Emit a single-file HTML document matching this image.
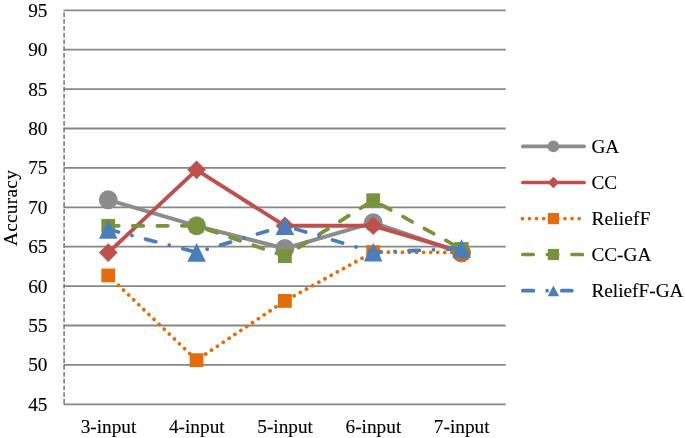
<!DOCTYPE html>
<html lang="en"><head><meta charset="utf-8"><title>Accuracy chart</title>
<style>html,body{margin:0;padding:0;background:#fff}svg{display:block}text{font-family:"Liberation Serif","Times New Roman",serif;font-size:19.3px;fill:#000;stroke:#000;stroke-width:0.12px}</style></head><body>
<svg width="685" height="438" viewBox="0 0 685 438">
<rect width="685" height="438" fill="#fff"/>
<g stroke="#868686" stroke-width="1.8" fill="none">
<line x1="63.5" y1="10.30" x2="505.7" y2="10.30"/>
<line x1="63.5" y1="49.70" x2="505.7" y2="49.70"/>
<line x1="63.5" y1="89.10" x2="505.7" y2="89.10"/>
<line x1="63.5" y1="128.50" x2="505.7" y2="128.50"/>
<line x1="63.5" y1="167.90" x2="505.7" y2="167.90"/>
<line x1="63.5" y1="207.30" x2="505.7" y2="207.30"/>
<line x1="63.5" y1="246.70" x2="505.7" y2="246.70"/>
<line x1="63.5" y1="286.10" x2="505.7" y2="286.10"/>
<line x1="63.5" y1="325.50" x2="505.7" y2="325.50"/>
<line x1="63.5" y1="364.90" x2="505.7" y2="364.90"/>
<line x1="63.5" y1="404.30" x2="505.7" y2="404.30"/>
</g>
<line x1="64.1" y1="10.3" x2="64.1" y2="404.3" stroke="#757575" stroke-width="1.5" stroke-dasharray="4.75 2.034" stroke-dashoffset="4.75"/>
<g text-anchor="end">
<text x="47.5" y="16.8">95</text>
<text x="47.5" y="56.2">90</text>
<text x="47.5" y="95.6">85</text>
<text x="47.5" y="135.0">80</text>
<text x="47.5" y="174.4">75</text>
<text x="47.5" y="213.8">70</text>
<text x="47.5" y="253.2">65</text>
<text x="47.5" y="292.6">60</text>
<text x="47.5" y="332.0">55</text>
<text x="47.5" y="371.4">50</text>
<text x="47.5" y="410.8">45</text>
</g>
<g text-anchor="middle">
<text x="108.5" y="433.2">3-input</text>
<text x="196.8" y="433.2">4-input</text>
<text x="285.1" y="433.2">5-input</text>
<text x="373.4" y="433.2">6-input</text>
<text x="461.7" y="433.2">7-input</text>
</g>
<text transform="translate(16.9,208) rotate(-90)" text-anchor="middle" font-size="18.6" letter-spacing="0.28">Accuracy</text>
<g>
<polyline points="108.26,199.81 196.58,225.82 284.90,248.51 373.22,222.67 461.54,253.00" fill="none" stroke="#8c8c8c" stroke-width="4.0" stroke-linejoin="round" stroke-linecap="round"/>
<circle cx="108.26" cy="199.81" r="9.45" fill="#8c8c8c"/>
<circle cx="196.58" cy="225.82" r="9.45" fill="#8c8c8c"/>
<circle cx="284.90" cy="248.51" r="9.45" fill="#8c8c8c"/>
<circle cx="373.22" cy="222.67" r="9.45" fill="#8c8c8c"/>
<circle cx="461.54" cy="253.00" r="9.45" fill="#8c8c8c"/>
</g><g>
<polyline points="108.26,252.61 196.58,169.87 284.90,225.82 373.22,225.82 461.54,251.59" fill="none" stroke="#c0504d" stroke-width="4.0" stroke-linejoin="round" stroke-linecap="round"/>
<polygon points="108.26,243.31 117.56,252.61 108.26,261.91 98.96,252.61" fill="#c0504d"/>
<polygon points="196.58,160.57 205.88,169.87 196.58,179.17 187.28,169.87" fill="#c0504d"/>
<polygon points="284.90,216.52 294.20,225.82 284.90,235.12 275.60,225.82" fill="#c0504d"/>
<polygon points="373.22,216.52 382.52,225.82 373.22,235.12 363.92,225.82" fill="#c0504d"/>
<polygon points="461.54,242.29 470.84,251.59 461.54,260.89 452.24,251.59" fill="#c0504d"/>
</g><g>
<g fill="none" stroke="#e46c0a" stroke-width="3.8" stroke-linecap="round" stroke-dasharray="0.01 7.04"><line x1="108.26" y1="275.46" x2="196.58" y2="360.17" stroke-dashoffset="0"/><line x1="196.58" y1="360.17" x2="284.90" y2="300.91" stroke-dashoffset="3.15"/><line x1="284.90" y1="300.91" x2="373.22" y2="252.14" stroke-dashoffset="3.55"/><line x1="373.22" y1="252.14" x2="461.54" y2="252.45" stroke-dashoffset="6.0"/></g>
<rect x="101.36" y="268.56" width="13.8" height="13.8" fill="#e46c0a"/>
<rect x="189.68" y="353.27" width="13.8" height="13.8" fill="#e46c0a"/>
<rect x="278.00" y="294.01" width="13.8" height="13.8" fill="#e46c0a"/>
<rect x="366.32" y="245.24" width="13.8" height="13.8" fill="#e46c0a"/>
<rect x="454.64" y="245.55" width="13.8" height="13.8" fill="#e46c0a"/>
</g><g>
<g fill="none" stroke="#77933c" stroke-width="3.8" stroke-linecap="round" stroke-dasharray="10.5 14"><line x1="108.26" y1="225.82" x2="196.58" y2="225.82" stroke-dashoffset="0"/><line x1="196.58" y1="225.82" x2="284.90" y2="256.16" stroke-dashoffset="13.55"/><line x1="284.90" y1="256.16" x2="373.22" y2="200.21" stroke-dashoffset="8.45"/><line x1="373.22" y1="200.21" x2="461.54" y2="249.14" stroke-dashoffset="14.95"/></g>
<rect x="101.36" y="218.92" width="13.8" height="13.8" fill="#77933c"/>
<rect x="189.68" y="218.92" width="13.8" height="13.8" fill="#77933c"/>
<rect x="278.00" y="249.26" width="13.8" height="13.8" fill="#77933c"/>
<rect x="366.32" y="193.31" width="13.8" height="13.8" fill="#77933c"/>
<rect x="454.64" y="242.24" width="13.8" height="13.8" fill="#77933c"/>
<circle cx="196.58" cy="225.82" r="8.4" fill="#77933c"/>
</g><g>
<circle cx="461.54" cy="252.29" r="9.0" fill="#d4641c"/>
<rect x="454.64" y="242.24" width="13.8" height="13.8" fill="#77933c"/>
<g fill="none" stroke="#4a7ebb" stroke-width="3.8" stroke-linecap="round" stroke-dasharray="10.5 14 0.01 14"><line x1="108.26" y1="229.36" x2="196.58" y2="252.37" stroke-dashoffset="0"/><line x1="196.58" y1="252.37" x2="284.90" y2="225.74" stroke-dashoffset="13.45"/><line x1="284.90" y1="225.74" x2="373.22" y2="252.14" stroke-dashoffset="27.24"/><line x1="373.22" y1="252.14" x2="461.54" y2="248.67" stroke-dashoffset="2.74"/></g>
<polygon points="108.26,220.01 117.56,238.71 98.96,238.71" fill="#4a7ebb"/>
<polygon points="196.58,243.02 205.88,261.72 187.28,261.72" fill="#4a7ebb"/>
<polygon points="284.90,216.39 294.20,235.09 275.60,235.09" fill="#4a7ebb"/>
<polygon points="373.22,242.79 382.52,261.49 363.92,261.49" fill="#4a7ebb"/>
<polygon points="461.54,239.32 470.84,258.02 452.24,258.02" fill="#4a7ebb"/>
</g>
<g>
<line x1="522.8" y1="146.4" x2="584.1" y2="146.4" stroke="#8c8c8c" stroke-width="3.7" stroke-linecap="round"/>
<circle cx="553.40" cy="146.40" r="5.9" fill="#8c8c8c"/>
<line x1="522.8" y1="182.5" x2="584.1" y2="182.5" stroke="#c0504d" stroke-width="3.7" stroke-linecap="round"/>
<polygon points="553.40,176.80 559.10,182.50 553.40,188.20 547.70,182.50" fill="#c0504d"/>
<line x1="522.4" y1="218.6" x2="584.4" y2="218.6" stroke="#e46c0a" stroke-width="3.7" stroke-linecap="round" stroke-dasharray="0.01 7.09"/>
<rect x="547.80" y="213.00" width="11.2" height="11.2" fill="#e46c0a"/>
<line x1="522.8" y1="254.5" x2="584.4" y2="254.5" stroke="#77933c" stroke-width="3.7" stroke-linecap="round" stroke-dasharray="10.4 14.2"/>
<rect x="547.80" y="248.90" width="11.2" height="11.2" fill="#77933c"/>
<path d="M522.8 290.7H533.4M547.1 290.7h0.01M561.8 290.7H571.9" stroke="#4a7ebb" stroke-width="3.7" stroke-linecap="round" fill="none"/>
<polygon points="553.40,285.50 559.15,296.30 547.65,296.30" fill="#4a7ebb"/>
<text x="591.4" y="153.1">GA</text>
<text x="591.4" y="189.2">CC</text>
<text x="591.4" y="225.3" letter-spacing="0.2">ReliefF</text>
<text x="591.4" y="261.2">CC-GA</text>
<text x="591.4" y="297.4">ReliefF-GA</text>
</g>
</svg></body></html>
